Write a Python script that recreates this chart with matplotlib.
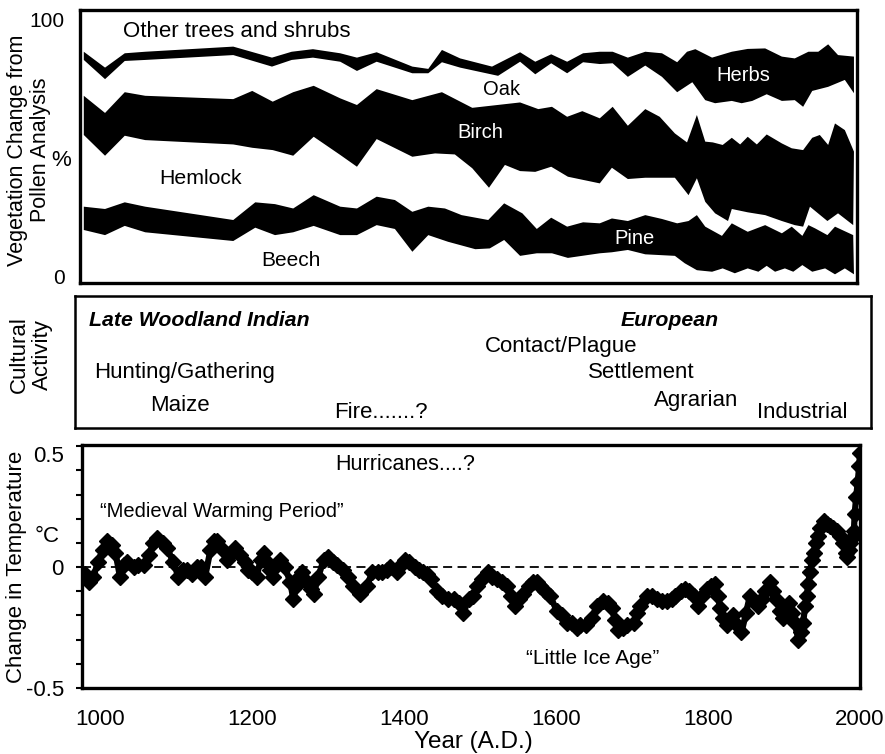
import numpy as np
import matplotlib
matplotlib.use('Agg')
import matplotlib.pyplot as plt

plt.rcParams['font.family'] = ['Liberation Sans', 'DejaVu Sans']

# --- pollen diagram: cumulative boundaries (year, %) ---
# b1 = top of Beech, b2 = top of Pine, b3 = top of Hemlock,
# b4 = top of Birch, b5 = top of Oak, b6 = top of Herbs
b1_years = [981, 1009, 1035, 1062, 1178, 1207, 1233, 1257, 1284, 1319, 1341, 1367, 1391, 1414,
            1435, 1461, 1497, 1516, 1535, 1556, 1578, 1598, 1619, 1661, 1677, 1698, 1721, 1760,
            1773, 1789, 1809, 1823, 1839, 1856, 1870, 1881, 1892, 1905, 1916, 1928, 1941, 1958,
            1971, 1984, 1996]
b1_vals = [18.0, 16.0, 19.6, 17.1, 13.7, 18.9, 16.0, 17.1, 19.6, 16.0, 16.0, 19.9, 18.4, 9.5,
           16.0, 13.4, 10.5, 10.8, 14.1, 7.9, 8.9, 8.9, 7.1, 8.9, 9.3, 10.2, 8.5, 7.9,
           5.0, 2.3, 1.7, 3.0, 1.1, 3.0, 1.7, 4.0, 1.7, 3.0, 1.7, 4.3, 1.7, 3.0,
           0.7, 3.0, 0.7]

b2_years = [981, 1009, 1035, 1062, 1178, 1207, 1233, 1257, 1284, 1319, 1341, 1367, 1391, 1414,
            1435, 1457, 1479, 1514, 1535, 1559, 1578, 1597, 1618, 1639, 1661, 1677, 1698, 1721,
            1743, 1763, 1778, 1789, 1800, 1822, 1835, 1856, 1879, 1901, 1914, 1928, 1936, 1945,
            1961, 1971, 1995]
b2_vals = [27.1, 26.2, 28.8, 27.1, 21.9, 28.8, 28.1, 26.4, 31.6, 27.1, 26.4, 31.0, 29.7, 25.1,
           27.1, 26.4, 23.8, 21.9, 28.4, 24.5, 18.4, 22.8, 19.3, 21.0, 20.6, 22.5, 21.5, 23.8,
           22.3, 20.6, 21.5, 23.8, 19.3, 15.7, 20.6, 17.3, 19.9, 16.7, 19.3, 15.7, 19.9, 18.6,
           16.0, 19.3, 16.0]

b3_years = [981, 1009, 1035, 1062, 1178, 1203, 1230, 1257, 1284, 1319, 1341, 1367, 1414, 1444,
            1470, 1493, 1515, 1536, 1556, 1576, 1597, 1619, 1661, 1677, 1698, 1721, 1760, 1778,
            1789, 1800, 1813, 1830, 1835, 1856, 1879, 1901, 1918, 1929, 1938, 1961, 1975, 1995]
b3_vals = [55.1, 47.0, 54.8, 53.1, 51.4, 50.1, 49.2, 47.0, 54.4, 47.3, 42.7, 53.5, 46.6, 47.9,
           47.5, 42.1, 34.5, 43.4, 41.0, 40.7, 42.7, 38.8, 36.2, 42.3, 37.9, 38.4, 38.4, 31.6,
           38.2, 29.0, 24.5, 21.5, 26.2, 24.9, 23.8, 21.5, 19.9, 19.3, 27.1, 21.5, 24.5, 19.9]

b4_years = [981, 1009, 1035, 1062, 1178, 1203, 1230, 1257, 1284, 1319, 1341, 1367, 1414, 1453,
            1493, 1556, 1580, 1598, 1618, 1638, 1661, 1678, 1698, 1721, 1740, 1760, 1776, 1789,
            1800, 1810, 1823, 1835, 1846, 1856, 1868, 1881, 1901, 1914, 1929, 1941, 1951, 1962,
            1971, 1984, 1996]
b4_vals = [70.4, 63.7, 71.8, 70.4, 69.1, 72.3, 68.1, 71.8, 74.3, 69.4, 66.8, 73.0, 68.7, 71.8,
           65.7, 67.8, 65.2, 66.1, 62.2, 64.4, 61.6, 66.1, 58.7, 65.2, 62.2, 55.7, 52.2, 62.9,
           52.5, 52.2, 51.2, 54.0, 51.4, 54.4, 51.4, 55.3, 51.8, 49.9, 49.2, 54.0, 55.1, 51.2,
           59.6, 57.0, 48.6]

b5_years = [981, 1009, 1035, 1062, 1178, 1229, 1255, 1283, 1319, 1341, 1367, 1414, 1435, 1453,
            1477, 1527, 1556, 1576, 1597, 1618, 1639, 1661, 1678, 1698, 1721, 1743, 1763, 1783,
            1800, 1813, 1835, 1848, 1862, 1881, 1901, 1918, 1929, 1941, 1962, 1984, 1996]
b5_vals = [84.4, 76.9, 84.0, 84.4, 86.3, 81.8, 84.4, 85.3, 83.7, 80.1, 83.7, 79.2, 79.2, 83.5,
           81.4, 78.2, 83.7, 78.8, 83.1, 79.2, 83.5, 82.8, 83.1, 77.8, 82.2, 77.8, 71.8, 75.7,
           68.7, 67.5, 68.4, 67.5, 68.4, 71.0, 68.4, 68.7, 66.1, 72.3, 73.9, 76.6, 71.4]

b6_years = [981, 1009, 1035, 1062, 1178, 1229, 1255, 1283, 1319, 1341, 1367, 1414, 1435, 1453,
            1477, 1519, 1556, 1576, 1597, 1618, 1639, 1661, 1678, 1698, 1721, 1743, 1763, 1776,
            1787, 1809, 1835, 1856, 1879, 1901, 1918, 1936, 1949, 1962, 1975, 1996]
b6_vals = [87.6, 81.4, 87.0, 87.6, 89.6, 85.3, 87.6, 88.6, 87.0, 85.3, 87.4, 81.8, 80.9, 88.3,
           85.0, 81.8, 87.4, 83.7, 86.6, 83.7, 87.0, 87.6, 87.6, 85.3, 87.6, 87.0, 83.5, 87.6,
           88.6, 85.3, 87.6, 88.7, 88.9, 85.7, 85.0, 87.6, 87.6, 90.5, 86.3, 85.7]

# taxon labels
taxa = ['Other trees and shrubs', 'Oak', 'Herbs', 'Birch', 'Hemlock', 'Pine', 'Beech']
taxa_year = [1183, 1531, 1850, 1503, 1135, 1707, 1254]
taxa_pct = [95.7, 72.7, 78.5, 56.2, 38.3, 14.8, 5.9]
taxa_color = ['black', 'black', 'white', 'white', 'black', 'white', 'black']
taxa_size = [16, 14.5, 14.5, 14.5, 15.3, 14.5, 15]

# --- cultural activity labels (axes fraction positions) ---
culture = ['Late Woodland Indian', 'European', 'Contact/Plague', 'Hunting/Gathering',
           'Settlement', 'Maize', 'Fire.......?', 'Agrarian', 'Industrial']
culture_fx = [0.018, 0.685, 0.515, 0.024, 0.644, 0.095, 0.325, 0.727, 0.857]
culture_fy = [0.818, 0.818, 0.614, 0.424, 0.424, 0.174, 0.114, 0.212, 0.114]
culture_bold = [True, True, False, False, False, False, False, False, False]

# --- temperature change (degC) ---
temp_years = [980, 985, 991, 997, 1003, 1009, 1015, 1020, 1026, 1031, 1035, 1044, 1050, 1057,
              1064, 1070, 1075, 1082, 1088, 1096, 1103, 1109, 1114, 1121, 1127, 1132, 1138, 1145,
              1150, 1154, 1162, 1167, 1173, 1178, 1184, 1190, 1195, 1200, 1206, 1211, 1215, 1220,
              1224, 1228, 1233, 1237, 1243, 1250, 1254, 1258, 1261, 1265, 1272, 1277, 1281, 1287,
              1294, 1300, 1306, 1312, 1320, 1326, 1333, 1342, 1351, 1358, 1365, 1371, 1377, 1382,
              1390, 1396, 1401, 1407, 1414, 1420, 1425, 1430, 1436, 1443, 1450, 1458, 1465, 1472,
              1478, 1485, 1491, 1496, 1502, 1511, 1516, 1522, 1529, 1535, 1541, 1546, 1551, 1557,
              1564, 1570, 1575, 1579, 1586, 1592, 1601, 1608, 1614, 1621, 1627, 1632, 1640, 1647,
              1654, 1662, 1668, 1673, 1678, 1682, 1688, 1693, 1702, 1707, 1711, 1719, 1726, 1733,
              1740, 1746, 1752, 1757, 1764, 1770, 1775, 1781, 1787, 1792, 1798, 1804, 1809, 1813,
              1816, 1820, 1825, 1829, 1833, 1838, 1844, 1850, 1855, 1860, 1866, 1871, 1875, 1882,
              1886, 1890, 1895, 1899, 1903, 1906, 1910, 1914, 1919, 1922, 1925, 1928, 1930, 1932,
              1934, 1937, 1939, 1942, 1945, 1948, 1952, 1956, 1961, 1965, 1970, 1974, 1978, 1981,
              1983, 1985, 1987, 1990, 1992, 1993, 1995, 1997, 1999, 2000]
temp_anom = [-0.03, -0.06, -0.04, 0.02, 0.07, 0.11, 0.09, 0.06, -0.04, 0.01, 0.02, 0.00, 0.01, 0.01,
             0.05, 0.10, 0.12, 0.10, 0.08, 0.02, -0.04, -0.01, -0.01, -0.03, 0.00, 0.00, -0.04, 0.07,
             0.11, 0.11, 0.07, 0.03, 0.06, 0.08, 0.05, 0.02, -0.01, -0.02, -0.04, 0.03, 0.06, 0.02,
             -0.01, -0.04, 0.01, 0.03, 0.00, -0.06, -0.13, -0.08, -0.04, -0.02, -0.06, -0.09, -0.11, -0.04,
             0.03, 0.04, 0.02, 0.01, -0.01, -0.04, -0.08, -0.11, -0.08, -0.02, -0.02, -0.02, -0.01, 0.00,
             -0.02, 0.01, 0.03, 0.02, 0.00, -0.01, -0.02, -0.03, -0.05, -0.10, -0.12, -0.13, -0.13, -0.15,
             -0.19, -0.13, -0.12, -0.08, -0.05, -0.02, -0.04, -0.05, -0.06, -0.08, -0.12, -0.16, -0.13, -0.11,
             -0.08, -0.06, -0.06, -0.08, -0.10, -0.12, -0.18, -0.20, -0.23, -0.23, -0.25, -0.24, -0.24, -0.21,
             -0.16, -0.14, -0.15, -0.17, -0.22, -0.26, -0.25, -0.24, -0.23, -0.19, -0.16, -0.12, -0.12, -0.13,
             -0.14, -0.14, -0.13, -0.12, -0.10, -0.09, -0.10, -0.12, -0.16, -0.12, -0.09, -0.08, -0.07, -0.12,
             -0.17, -0.21, -0.24, -0.22, -0.20, -0.24, -0.27, -0.19, -0.12, -0.14, -0.16, -0.13, -0.10, -0.06,
             -0.10, -0.13, -0.18, -0.21, -0.17, -0.15, -0.19, -0.23, -0.30, -0.27, -0.23, -0.16, -0.12, -0.07,
             -0.02, 0.03, 0.06, 0.10, 0.13, 0.16, 0.19, 0.18, 0.17, 0.16, 0.15, 0.13, 0.10, 0.06,
             0.04, 0.07, 0.10, 0.12, 0.15, 0.22, 0.29, 0.35, 0.42, 0.47]

year_ticks = [1000, 1200, 1400, 1600, 1800, 2000]

W, H = 885, 754
fig = plt.figure(figsize=(W / 100, H / 100), dpi=100)


def box(l, t, r, b):
    return [l / W, 1 - b / H, (r - l) / W, (b - t) / H]


# ---------------- top: pollen ----------------
ax1 = fig.add_axes(box(80, 10, 857, 283))
bands = [(b2_years, b2_vals, b1_years, b1_vals),
         (b4_years, b4_vals, b3_years, b3_vals),
         (b6_years, b6_vals, b5_years, b5_vals)]
for ux, uy, lx, ly in bands:
    ax1.fill(np.r_[ux, lx[::-1]], np.r_[uy, ly[::-1]], color='black', lw=0)
for name, yr, pc, col, fs in zip(taxa, taxa_year, taxa_pct, taxa_color, taxa_size):
    ax1.text(yr, pc, name, color=col, fontsize=fs, ha='center', va='center')
ax1.set_xlim(976, 2000)
ax1.set_ylim(-2.7, 103.9)
ax1.set_xticks([])
ax1.set_yticks([0, 100])
ax1.set_yticklabels(['0', '100'], fontsize=15)
ax1.tick_params(axis='y', length=0, pad=11)
for s in ax1.spines.values():
    s.set_linewidth(2.4)

# ---------------- middle: cultural activity ----------------
ax2 = fig.add_axes(box(75, 296, 871, 428))
for txt, fx, fy, bold in zip(culture, culture_fx, culture_fy, culture_bold):
    if bold:
        ax2.text(fx, fy, txt, transform=ax2.transAxes, fontsize=15.3, ha='left', va='center',
                 fontweight='bold', fontstyle='italic')
    else:
        ax2.text(fx, fy, txt, transform=ax2.transAxes, fontsize=16, ha='left', va='center')
ax2.set_xticks([])
ax2.set_yticks([])
for s in ax2.spines.values():
    s.set_linewidth(1.8)

# ---------------- bottom: temperature ----------------
ax3 = fig.add_axes(box(82, 445, 860, 688))
ax3.axhline(0, color='black', lw=1.3, ls=(0, (5, 3)), zorder=1)
ax3.plot(temp_years, temp_anom, color='black', lw=4.5, marker='D', ms=8.5, zorder=3)
ax3.set_xlim(976, 2000)
ax3.set_ylim(-0.495, 0.505)
ax3.set_xticks(year_ticks)
ax3.set_xticklabels([str(y) for y in year_ticks], fontsize=16)
ax3.tick_params(axis='x', length=0, pad=15)
ax3.set_yticks([-0.5, 0, 0.5])
ax3.set_yticklabels(['-0.5', '0', '0.5'], fontsize=16)
ax3.set_yticks(np.arange(-0.5, 0.51, 0.1), minor=True)
ax3.tick_params(axis='y', which='both', direction='out', length=4, width=1.5, pad=9)
ax3.get_yticklabels()[2].set_va('top')
for s in ax3.spines.values():
    s.set_linewidth(2.4)
ax3.text(1000, 0.231, '\u201cMedieval Warming Period\u201d', fontsize=14.5, ha='left', va='center')
ax3.text(1309, 0.426, 'Hurricanes....?', fontsize=15.5, ha='left', va='center')
ax3.text(1648, -0.38, '\u201cLittle Ice Age\u201d', fontsize=15, ha='center', va='center')

# ---------------- axis titles ----------------
fig.text(29 / W, 1 - 150 / H, 'Vegetation Change from\nPollen Analysis', rotation=90,
         fontsize=15.5, ha='center', va='center', multialignment='center', linespacing=1.1)
fig.text(61 / W, 1 - 160 / H, '%', fontsize=16, ha='center', va='center')
fig.text(31 / W, 1 - 355 / H, 'Cultural\nActivity', rotation=90,
         fontsize=16, ha='center', va='center', multialignment='center', linespacing=1.1)
fig.text(17 / W, 1 - 567 / H, 'Change in Temperature', rotation=90,
         fontsize=16, ha='center', va='center')
fig.text(47 / W, 1 - 537 / H, '\u00b0C', fontsize=16, ha='center', va='center')
fig.text(473 / W, 1 - 742 / H, 'Year (A.D.)', fontsize=17.5, ha='center', va='center')

fig.savefig('out.png', dpi=100)
